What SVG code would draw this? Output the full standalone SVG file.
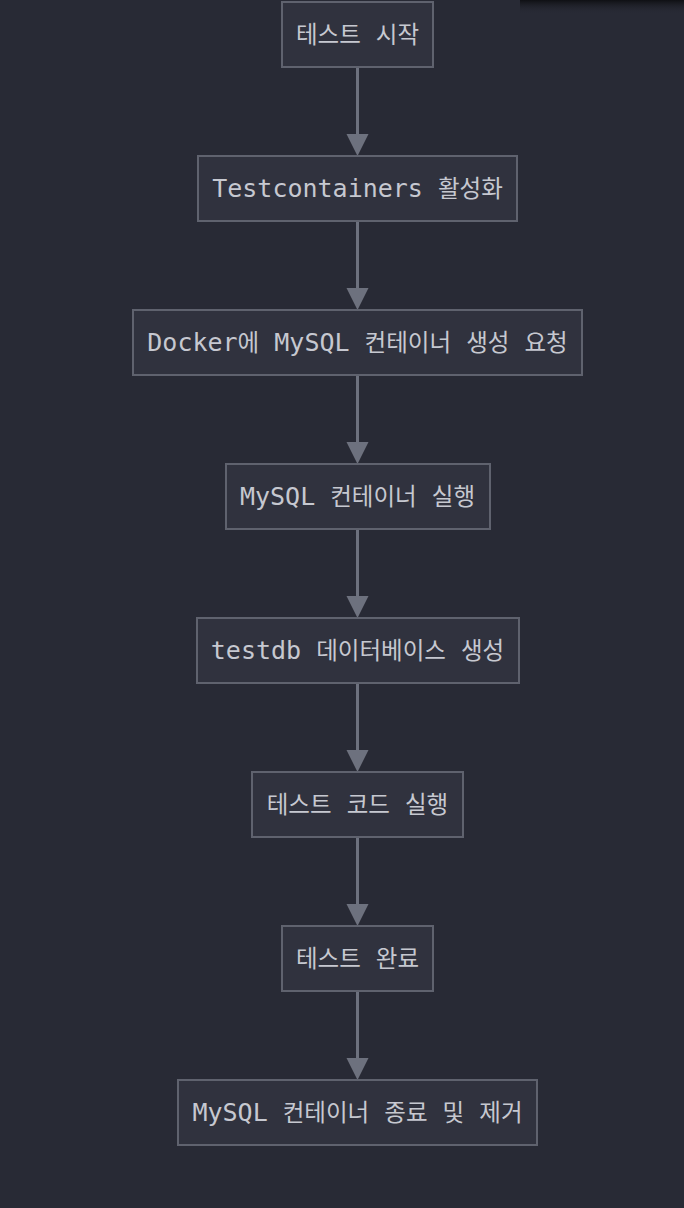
<svg xmlns="http://www.w3.org/2000/svg" width="684" height="1208" viewBox="0 0 684 1208">
<style>
.bg{fill:#282a35}
.node rect{fill:#30323e;stroke:#5f626e;stroke-width:2}
.node text{font-family:"DejaVu Sans Mono","Noto Sans CJK KR",monospace;font-size:25px;fill:#c6c8d0;text-anchor:middle}
.k{font-family:"Noto Sans CJK KR","DejaVu Sans Mono",sans-serif;font-size:23.5px}
.edge{stroke:#6d717e;stroke-width:3;fill:none}
.head{fill:#6d717e}
</style>
<defs>
<linearGradient id="corner" x1="0" y1="0" x2="0" y2="1">
<stop offset="0" stop-color="#0c0d10" stop-opacity="0.9"/>
<stop offset="1" stop-color="#282a35" stop-opacity="0"/>
</linearGradient>
</defs>
<rect class="bg" x="0" y="0" width="684" height="1208"/>
<rect x="520" y="0" width="164" height="14" fill="url(#corner)"/>
<g id="connectors">
<line class="edge" x1="357.5" y1="67" x2="357.5" y2="135"/>
<path class="head" d="M346.5,134 L368.5,134 L357.5,156 Z"/>
<line class="edge" x1="357.5" y1="221" x2="357.5" y2="289"/>
<path class="head" d="M346.5,288 L368.5,288 L357.5,310 Z"/>
<line class="edge" x1="357.5" y1="375" x2="357.5" y2="443"/>
<path class="head" d="M346.5,442 L368.5,442 L357.5,464 Z"/>
<line class="edge" x1="357.5" y1="529" x2="357.5" y2="597"/>
<path class="head" d="M346.5,596 L368.5,596 L357.5,618 Z"/>
<line class="edge" x1="357.5" y1="683" x2="357.5" y2="751"/>
<path class="head" d="M346.5,750 L368.5,750 L357.5,772 Z"/>
<line class="edge" x1="357.5" y1="837" x2="357.5" y2="905"/>
<path class="head" d="M346.5,904 L368.5,904 L357.5,926 Z"/>
<line class="edge" x1="357.5" y1="991" x2="357.5" y2="1059"/>
<path class="head" d="M346.5,1058 L368.5,1058 L357.5,1080 Z"/>
</g>
<g id="n1" class="node"><rect x="282" y="2" width="151" height="65"/><text x="357.5" y="43"><tspan class="k">테스트</tspan> <tspan class="k">시작</tspan></text></g>
<g id="n2" class="node"><rect x="198" y="156" width="319" height="65"/><text x="357.5" y="197">Testcontainers <tspan class="k">활성화</tspan></text></g>
<g id="n3" class="node"><rect x="133" y="310" width="449" height="65"/><text x="357.5" y="351">Docker<tspan class="k">에</tspan> MySQL <tspan class="k">컨테이너</tspan> <tspan class="k">생성</tspan> <tspan class="k">요청</tspan></text></g>
<g id="n4" class="node"><rect x="226" y="464" width="264" height="65"/><text x="357.5" y="505">MySQL <tspan class="k">컨테이너</tspan> <tspan class="k">실행</tspan></text></g>
<g id="n5" class="node"><rect x="197" y="618" width="322" height="65"/><text x="357.5" y="659">testdb <tspan class="k">데이터베이스</tspan> <tspan class="k">생성</tspan></text></g>
<g id="n6" class="node"><rect x="252" y="772" width="211" height="65"/><text x="357.5" y="813"><tspan class="k">테스트</tspan> <tspan class="k">코드</tspan> <tspan class="k">실행</tspan></text></g>
<g id="n7" class="node"><rect x="282" y="926" width="151" height="65"/><text x="357.5" y="967"><tspan class="k">테스트</tspan> <tspan class="k">완료</tspan></text></g>
<g id="n8" class="node"><rect x="178" y="1080" width="359" height="65"/><text x="357.5" y="1121">MySQL <tspan class="k">컨테이너</tspan> <tspan class="k">종료</tspan> <tspan class="k">및</tspan> <tspan class="k">제거</tspan></text></g>
</svg>
